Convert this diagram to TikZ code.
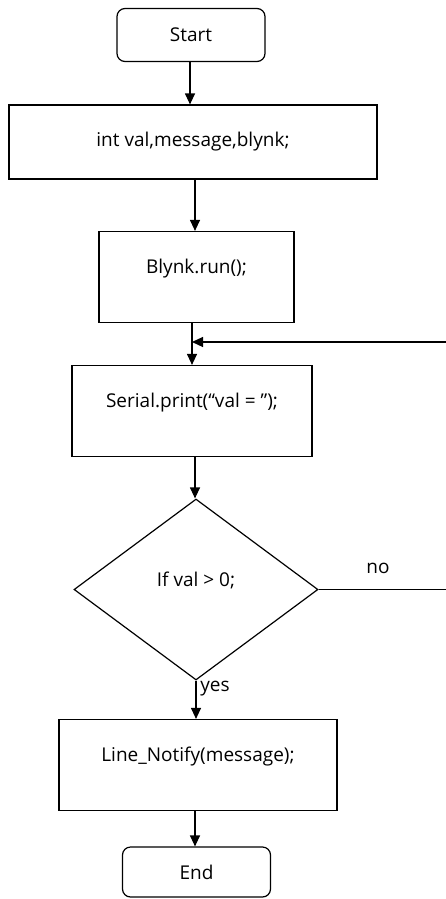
\documentclass[tikz,border=0pt]{standalone}
\usepackage{fontspec}
\setmainfont{Open Sans}
\usetikzlibrary{shapes.geometric,arrows.meta}

\begin{document}
\begin{tikzpicture}[x=1pt,y=-1pt,line width=1.2pt,
  every node/.style={font=\fontsize{19}{22}\selectfont},
  term/.style={draw,rounded corners=8pt,minimum width=148pt,minimum height=53pt,inner sep=0pt},
  proc/.style={draw,minimum height=91pt,inner sep=0pt,text height=13pt,text depth=20pt},
  decision/.style={draw,diamond,aspect=1.35,minimum width=244pt,minimum height=181pt,inner sep=0pt,text height=13pt,text depth=19pt},
  flow/.style={-{Triangle[width=10pt,length=11pt]}}]
\useasboundingbox (0,0) rectangle (446,899);

\node[term] (start) at (191,35) {Start};
\node[draw,minimum width=368pt,minimum height=74pt] (decl) at (193,142) {int val,message,blynk;};
\node[proc,minimum width=195pt] (run) at (196.5,277) {Blynk.run();};
\node[proc,minimum width=240pt] (serial) at (192,411) {Serial.print(“val = ”);};
\node[decision] (test) at (196,589.5) {If val > 0;};
\node[proc,minimum width=278pt] (notify) at (198,765) {Line\_Notify(message);};
\node[term,minimum height=50pt] (stop) at (196.5,872) {End};

\node (nolbl) at (378,568) {no};
\node (yeslbl) at (215,689) {yes};

\foreach \a/\b/\x in {start/decl/190,decl/run/195,run/serial/192,serial/test/195,test/notify/196,notify/stop/195}
  \draw[flow] (\x,0 |- \a.south) -- (\x,0 |- \b.north);

% no: back up to the loop
\coordinate (back) at (450,342);
\draw[flow] (test.east) -- (test.east -| back) -- (back) -- (serial.north |- back);
\end{tikzpicture}
\end{document}
